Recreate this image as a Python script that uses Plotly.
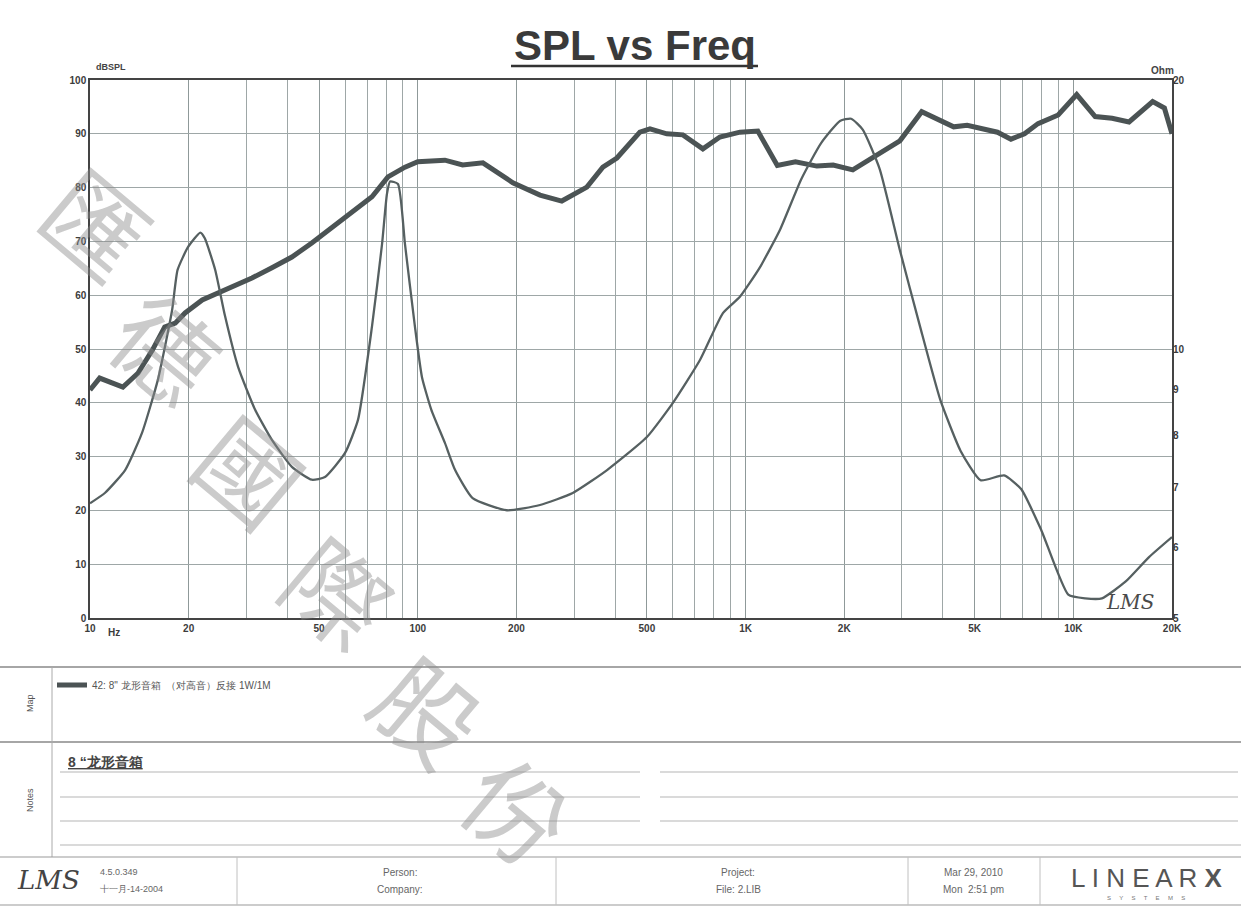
import plotly.graph_objects as go
import math

# ---------------- data ----------------
spl_freq = [10, 10.7, 12.6, 14.0, 15.5, 16.9, 18.2, 19.5, 22.0, 24.6, 27.7, 31.2, 35.9, 41.3, 47.5,
            52.1, 57.1, 63.0, 72.5, 81.1, 91.4, 100, 121, 137, 158, 195, 236, 275, 328, 367, 405,
            476, 511, 575, 644, 741, 835, 961, 1090, 1250, 1420, 1650, 1850, 2124, 2446, 2957,
            3447, 4315, 4744, 5870, 6452, 7096, 7803, 8990, 10240, 11660, 13130, 14790, 17460,
            18960, 20000]
spl_db = [42.4, 44.6, 42.9, 45.5, 49.8, 54.1, 54.8, 56.7, 59.1, 60.4, 61.9, 63.2, 65.1, 67.1, 69.7,
          71.6, 73.4, 75.3, 78.3, 82.0, 83.8, 84.8, 85.1, 84.2, 84.6, 80.9, 78.6, 77.5, 80.1, 83.8, 85.5,
          90.3, 90.9, 90.0, 89.8, 87.2, 89.4, 90.3, 90.5, 84.1, 84.8, 84.0, 84.2, 83.3, 85.6, 88.7,
          94.1, 91.3, 91.6, 90.3, 89.0, 90.0, 91.9, 93.5, 97.3, 93.2, 92.9, 92.2, 96.0,
          94.8, 90.0]

imp_freq = [10, 11.1, 12.8, 14.4, 16.1, 17.8, 18.5, 19.9, 21.7, 22.4, 24.1, 25.8, 28.3, 31.9, 35.9,
            41.3, 47.5, 52.1, 60.0, 65.7, 72.5, 77.8, 80.5, 82.3, 87.0, 91.4, 98.0, 103, 110, 121,
            130, 147, 187, 236, 297, 378, 500, 601, 726, 853, 961, 1100, 1274, 1480, 1700, 1941,
            2100, 2278, 2566, 2957, 3406, 3928, 4530, 5214, 6150, 6930, 7985, 9650, 10870, 12230,
            14420, 17020, 20000]
imp_ohm = [6.72, 6.90, 7.32, 8.05, 9.23, 11.05, 12.26, 13.0, 13.5, 13.3, 12.26, 10.9, 9.55, 8.55, 7.91,
           7.38, 7.14, 7.19, 7.65, 8.33, 10.6, 13.1, 14.9, 15.4, 15.3, 13.1, 10.6, 9.3, 8.55, 7.85,
           7.32, 6.81, 6.60, 6.69, 6.90, 7.32, 7.97, 8.71, 9.72, 10.97, 11.44, 12.3, 13.6, 15.5, 17.0, 18.0,
           18.1, 17.6, 15.9, 12.9, 10.6, 8.77, 7.69, 7.13, 7.22, 6.97, 6.27, 5.31, 5.26, 5.26,
           5.49, 5.85, 6.16]

x_tickvals = [10, 20, 50, 100, 200, 500, 1000, 2000, 5000, 10000, 20000]
x_ticktext = ["10", "20", "50", "100", "200", "500", "1K", "2K", "5K", "10K", "20K"]
x_minor = [m * d for d in (10, 100, 1000, 10000) for m in range(1, 10) if m * d <= 20000]
db_ticks = list(range(0, 101, 10))
ohm_ticks = [5, 6, 7, 8, 9, 10, 20]

legend_name = '42: 8" 龙形音箱  （对高音）反接 1W/1M'
note_text = '8 “龙形音箱'
watermark = ["匯", "德", "國", "際", "股", "份"]

# ---------------- geometry helpers ----------------
W, H = 1241, 908
L, R, T, B = 90, 1172, 80, 618


def px(x):
    return (x - L) / (R - L)


def py(y):
    return (B - y) / (B - T)


LINE = "#4b5354"
GRID = "#9ea7a7"
TXT = "#3c3c3c"
FONT = "Liberation Sans"

fig = go.Figure()
fig.add_trace(go.Scatter(x=spl_freq, y=spl_db, mode="lines", name=legend_name,
                         line=dict(color=LINE, width=5, shape="linear"), yaxis="y", showlegend=True))
fig.add_trace(go.Scatter(x=imp_freq, y=imp_ohm, mode="lines", name="Impedance",
                         line=dict(color="#566061", width=2.3, shape="spline", smoothing=0.5),
                         yaxis="y2", showlegend=False))

fig.update_layout(
    width=W, height=H,
    margin=dict(l=L, r=W - R, t=T, b=H - B),
    paper_bgcolor="#ffffff", plot_bgcolor="#ffffff",
    font=dict(family=FONT, color=TXT),
    xaxis=dict(type="log", range=[1, math.log10(20000)], tickvals=x_tickvals, ticktext=x_ticktext,
               showgrid=True, gridcolor="#8f9999", gridwidth=1,
               minor=dict(tickvals=x_minor, showgrid=True, gridcolor=GRID, gridwidth=1, ticks=""),
               showline=True, linecolor="#444", linewidth=1.5, mirror=True,
               tickfont=dict(size=10, color=TXT, weight="bold"), ticks="", zeroline=False),
    yaxis=dict(range=[0, 100], tickvals=db_ticks, showgrid=True, gridcolor=GRID, gridwidth=1,
               showline=True, linecolor="#444", linewidth=1.5, mirror=True, ticks="",
               tickfont=dict(size=10, color=TXT, weight="bold"), zeroline=False),
    yaxis2=dict(type="log", range=[math.log10(5), math.log10(20)], overlaying="y", side="right",
                tickvals=ohm_ticks, showgrid=False, ticks="", showline=False,
                tickfont=dict(size=10, color=TXT, weight="bold"), zeroline=False),
    legend=dict(x=px(52), y=py(685), xanchor="left", yanchor="middle", bgcolor="rgba(0,0,0,0)",
                font=dict(size=10, color="#555"), itemwidth=30, tracegroupgap=0),
    showlegend=True,
)

shapes = []


def hline(x0, x1, y, color="#9a9a9a", width=1.2):
    shapes.append(dict(type="line", xref="paper", yref="paper", x0=px(x0), x1=px(x1), y0=py(y), y1=py(y),
                       line=dict(color=color, width=width)))


def vline(x, y0, y1, color="#9a9a9a", width=1.2):
    shapes.append(dict(type="line", xref="paper", yref="paper", x0=px(x), x1=px(x), y0=py(y0), y1=py(y1),
                       line=dict(color=color, width=width)))


# title underline
hline(511, 758, 66, color="#333", width=2.5)
# map / notes panel
hline(0, 1241, 667, color="#888", width=1.3)
hline(0, 1241, 742, color="#888", width=1.3)
vline(52, 667, 857, color="#aaa", width=1)
for yy in (772, 797, 821):
    hline(60, 640, yy, color="#b5b5b5", width=1)
    hline(660, 1238, yy, color="#b5b5b5", width=1)
hline(60, 1241, 845, color="#b5b5b5", width=1)
# footer
hline(0, 1241, 857, color="#999", width=1.2)
hline(0, 1241, 905, color="#999", width=1.2)
for xx in (237, 556, 908, 1040):
    vline(xx, 857, 905, color="#c0c0c0", width=1)

fig.update_layout(shapes=shapes)

ann = []


def text(x, y, s, size=10, color=TXT, xanchor="left", yanchor="middle", angle=0, family=FONT, weight="normal"):
    ann.append(dict(xref="paper", yref="paper", x=px(x), y=py(y), text=s, showarrow=False,
                    xanchor=xanchor, yanchor=yanchor, textangle=angle,
                    font=dict(size=size, color=color, family=family, weight=weight)))


text(635, 46, "<b>SPL vs Freq</b>", size=42, color="#3a3a3a", xanchor="center", family="Liberation Sans")
text(94, 67, "dBSPL", size=9, color="#444", weight="bold")
text(1176, 70, "Ohm", size=10, color="#444", xanchor="right", weight="bold")
text(106, 632, "Hz", size=10, color=TXT, weight="bold")
text(30, 703, "Map", size=9, color="#555", xanchor="center", angle=-90)
text(30, 800, "Notes", size=9, color="#555", xanchor="center", angle=-90)
text(66, 762, "<u>" + note_text + "</u>", size=14, color="#444", weight="bold")
# handwritten signature in plot
text(1130, 602, "<i>LMS</i>", size=20, color="#4a4a4a", xanchor="center", family="DejaVu Serif")
# footer
text(48, 880, "<i>LMS</i>", size=26, color="#444", xanchor="center", family="DejaVu Serif")
text(98, 872, "4.5.0.349", size=9, color="#666")
text(98, 889, "十一月-14-2004", size=9, color="#666")
text(400, 872, "Person:", size=10, color="#666", xanchor="center")
text(400, 889, "Company:", size=10, color="#666", xanchor="center")
text(738, 872, "Project:", size=10, color="#666", xanchor="center")
text(738, 889, "File: 2.LIB", size=10, color="#666", xanchor="center")
text(973, 872, "Mar 29, 2010", size=10, color="#666", xanchor="center")
text(973, 889, "Mon  2:51 pm", size=10, color="#666", xanchor="center")
text(1146, 878, "L I N E A R <b>X</b>", size=26, color="#555", xanchor="center")
text(1146, 898, "S     Y     S     T     E     M     S", size=6, color="#777", xanchor="center")

# watermark
wm_pos = [(98, 222), (168, 345), (252, 468), (340, 590), (430, 708), (520, 808)]
for ch, (wx, wy) in zip(watermark, wm_pos):
    text(wx, wy, ch, size=100, color="rgba(140,140,140,0.45)", xanchor="center", angle=40,
         family="Noto Sans CJK TC")

fig.update_layout(annotations=ann)

fig.write_html("out.html", config={"displayModeBar": False},
               post_script="document.body.style.margin='0px';")
